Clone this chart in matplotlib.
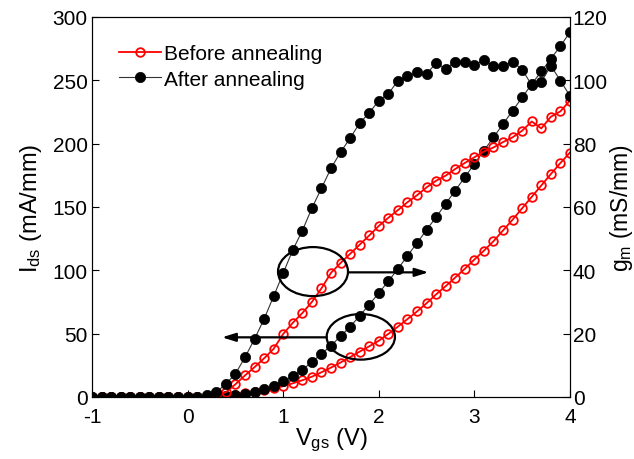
import numpy as np
import matplotlib
matplotlib.use('Agg')
import matplotlib.pyplot as plt
from matplotlib.patches import Ellipse

plt.rcParams['font.family'] = ['Liberation Sans', 'DejaVu Sans']
plt.rcParams['mathtext.default'] = 'regular'
plt.rcParams['axes.unicode_minus'] = False

# ---- data ----
vgs = [-1.0, -0.9, -0.8, -0.7, -0.6, -0.5, -0.4, -0.3, -0.2, -0.1,
       0.0, 0.1, 0.2, 0.3, 0.4, 0.5, 0.6, 0.7, 0.8, 0.9,
       1.0, 1.1, 1.2, 1.3, 1.4, 1.5, 1.6, 1.7, 1.8, 1.9,
       2.0, 2.1, 2.2, 2.3, 2.4, 2.5, 2.6, 2.7, 2.8, 2.9,
       3.0, 3.1, 3.2, 3.3, 3.4, 3.5, 3.6, 3.7, 3.8, 3.9, 4.0]

# I_ds, mA/mm (left axis)
ids_before = [0, 0, 0, 0, 0, 0, 0, 0, 0, 0,
              0, 0, 0, 0.3, 0.8, 1.6, 2.8, 4.0, 5.3, 6.8,
              8.5, 10.8, 13.2, 16.0, 19.5, 23.2, 27.2, 31.5, 35.8, 40.0,
              44.4, 49.8, 55.5, 61.5, 67.5, 74.0, 81.0, 87.5, 94.3, 101.2,
              108.5, 115.5, 123.0, 131.5, 140.0, 149.0, 158.0, 167.0, 176.0, 184.7, 193.0]
ids_after = [0, 0, 0, 0, 0, 0, 0, 0, 0, 0,
             0, 0, 0.2, 0.4, 0.8, 1.5, 2.7, 4.0, 6.2, 9.0,
             12.3, 16.3, 21.5, 27.5, 34.0, 40.5, 48.0, 55.5, 64.0, 73.0,
             82.0, 91.5, 101.0, 111.5, 121.5, 132.0, 142.0, 152.5, 163.0, 173.5,
             184.0, 194.5, 205.0, 215.5, 226.0, 236.5, 247.0, 257.0, 267.0, 277.0, 288.0]

# g_m, mS/mm (right axis)
gm_before = [0, 0, 0, 0, 0, 0, 0, 0, 0, 0,
             0, 0, 0, 0.5, 1.5, 4.0, 6.8, 9.4, 12.2, 15.2,
             19.9, 23.4, 26.5, 30.0, 34.3, 39.2, 42.3, 45.2, 48.1, 51.0,
             54.0, 56.6, 59.0, 61.5, 63.7, 66.2, 68.3, 69.9, 72.0, 73.9,
             75.7, 77.5, 78.8, 80.5, 82.0, 84.1, 87.0, 84.8, 88.5, 90.2, 93.6]
gm_after = [0, 0, 0, 0, 0, 0, 0, 0, 0, 0,
            0, 0, 0.5, 1.5, 4.1, 7.3, 12.5, 18.3, 24.6, 31.8,
            39.1, 46.4, 52.5, 59.6, 65.9, 72.2, 77.3, 81.7, 86.5, 89.7,
            93.6, 95.7, 99.9, 101.3, 102.7, 102.0, 105.5, 103.6, 105.9, 105.7,
            104.8, 106.5, 104.4, 104.6, 105.9, 103.4, 98.5, 99.5, 104.6, 99.9, 95.1]

labels = ['Before annealing', 'After annealing']

fig = plt.figure(figsize=(6.34, 4.6), dpi=100)
ax = fig.add_axes([0.1451, 0.1348, 0.7539, 0.8261])
ax2 = ax.twinx()

red_style = dict(color='red', lw=1.3, marker='o', markersize=6.2,
                 markerfacecolor='none', markeredgecolor='red', markeredgewidth=1.3)
blk_style = dict(color='#333333', lw=0.8, marker='o', markersize=7.4,
                 markerfacecolor='black', markeredgecolor='black', markeredgewidth=0.5)

ax.plot(vgs, ids_before, **red_style)
ax.plot(vgs, ids_after, **blk_style)
h1, = ax2.plot(vgs, gm_before, label=labels[0], **red_style)
h2, = ax2.plot(vgs, gm_after, label=labels[1], **blk_style)

ax.set_xlim(-1, 4)
ax.set_ylim(0, 300)
ax2.set_ylim(0, 120)
ax.set_xticks([-1, 0, 1, 2, 3, 4])
ax.set_yticks([0, 50, 100, 150, 200, 250, 300])
ax2.set_yticks([0, 20, 40, 60, 80, 100, 120])

ax.tick_params(axis='x', direction='in', length=5, labelsize=15, pad=7)
ax.tick_params(axis='y', direction='in', length=5, labelsize=15, pad=3)
ax2.tick_params(axis='y', direction='in', length=5, labelsize=15, pad=2)

ax.set_xlabel(r'V$_{gs}$ (V)', fontsize=17, labelpad=0)
ax.set_ylabel(r'I$_{ds}$ (mA/mm)', fontsize=17, labelpad=6)
ax2.set_ylabel(r'g$_{m}$ (mS/mm)', fontsize=16.5, rotation=90, labelpad=0)

# ellipses + arrows marking which curves belong to which axis
ax2.add_patch(Ellipse((1.312, 99 / 2.5), 0.732, 38.7 / 2.5, fill=False,
                      lw=1.6, color='black', zorder=5))
ax2.add_patch(Ellipse((1.812, 47.5 / 2.5), 0.714, 36 / 2.5, fill=False,
                      lw=1.6, color='black', zorder=5))
ax2.annotate('', xy=(2.52, 98.4 / 2.5), xytext=(1.678, 98.4 / 2.5),
             arrowprops=dict(arrowstyle='-|>,head_length=0.8,head_width=0.25',
                             lw=1.6, color='black', shrinkA=0, shrinkB=0))
ax2.annotate('', xy=(0.36, 47.1 / 2.5), xytext=(1.455, 47.1 / 2.5),
             arrowprops=dict(arrowstyle='-|>,head_length=0.8,head_width=0.25',
                             lw=1.6, color='black', shrinkA=0, shrinkB=0))

ax2.legend(handles=[h1, h2], loc='upper left', bbox_to_anchor=(0.04, 0.95),
           frameon=False, fontsize=15, handlelength=2.0, handletextpad=0.15,
           labelspacing=0.3, borderaxespad=0)

plt.savefig('out.png', dpi=100)
